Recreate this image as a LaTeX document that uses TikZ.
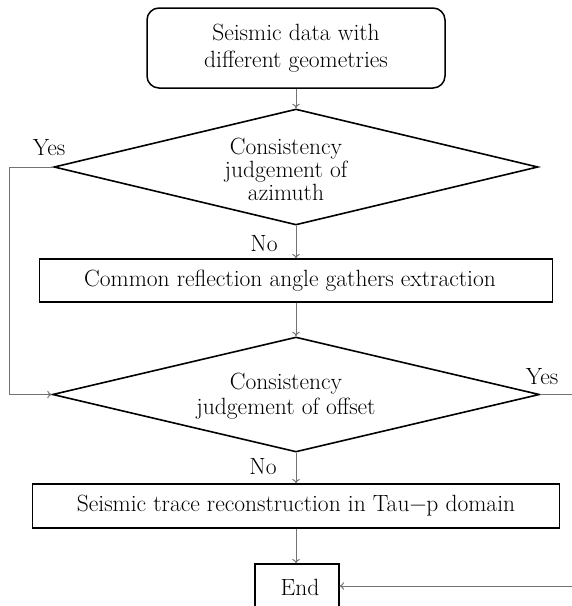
\documentclass[tikz,border=0pt]{standalone}
\usetikzlibrary{shapes.geometric,arrows.meta}
\begin{document}
\begin{tikzpicture}[x=1pt,y=-1pt,
  procbox/.style={draw=black,line width=1.1pt,inner sep=0pt,align=center,font=\fontsize{23.5}{26}\selectfont},
  startbox/.style={draw=black,line width=1.5pt,rounded corners=12pt,inner sep=0pt,align=center,font=\fontsize{23.5}{27.5}\selectfont},
  decision/.style={draw=black,line width=1.6pt,diamond,aspect=4.2,inner sep=0pt},
  dtext/.style={inner sep=0pt,align=center,font=\fontsize{23.5}{23}\selectfont},
  conn/.style={draw=black!55,line width=1pt,-{To[length=4.5pt,width=7.5pt]}},
  lbl/.style={inner sep=0pt,font=\fontsize{23.5}{26}\selectfont}]
\useasboundingbox (0,0) rectangle (572,606);
\node[startbox,minimum width=298pt,minimum height=80pt] (start) at (296,48) {Seismic data with\\different geometries};
\node[decision,minimum width=484pt,minimum height=116pt] (d1) at (296,167) {};
\node[dtext] (d1t) at (286,169) {Consistency\\judgement of\\azimuth};
\node[procbox,minimum width=513pt,minimum height=43pt] (b2) at (296,280.5) {Common reflection angle gathers extraction\hspace*{12pt}};
\node[decision,minimum width=487pt,minimum height=115pt] (d2) at (296,394.5) {};
\node[dtext,font=\fontsize{23.5}{25}\selectfont] (d2t) at (286,396) {Consistency\\judgement of offset};
\node[procbox,minimum width=527pt,minimum height=44pt] (b3) at (296,506) {Seismic trace reconstruction in Tau\textminus p domain};
\node[procbox,minimum width=84pt,minimum height=46pt] (end) at (297,587) {\hspace*{6pt}End};
\coordinate (l1) at (9,167);
\coordinate (l2) at (9,394.5);
\coordinate (r1) at (580,394.5);
\coordinate (r2) at (580,586);
\draw[conn] (start.south) -- (d1.north);
\draw[conn] (d1.south) -- (b2.north);
\draw[conn] (b2.south) -- (d2.north);
\draw[conn] (d2.south) -- (b3.north);
\draw[conn] (b3.south) -- (b3.south |- end.north);
\draw[conn] (d1.west) -- (l1) -- (l2) -- (d2.west);
\draw[conn] (d2.east) -- (r1) -- (r2) -- (end.east |- r2);
\node[lbl] (yes1) at (49,148) {Yes};
\node[lbl] (no1) at (264,244) {No};
\node[lbl] (yes2) at (542,377) {Yes};
\node[lbl] (no2) at (263,467) {No};
\end{tikzpicture}
\end{document}
